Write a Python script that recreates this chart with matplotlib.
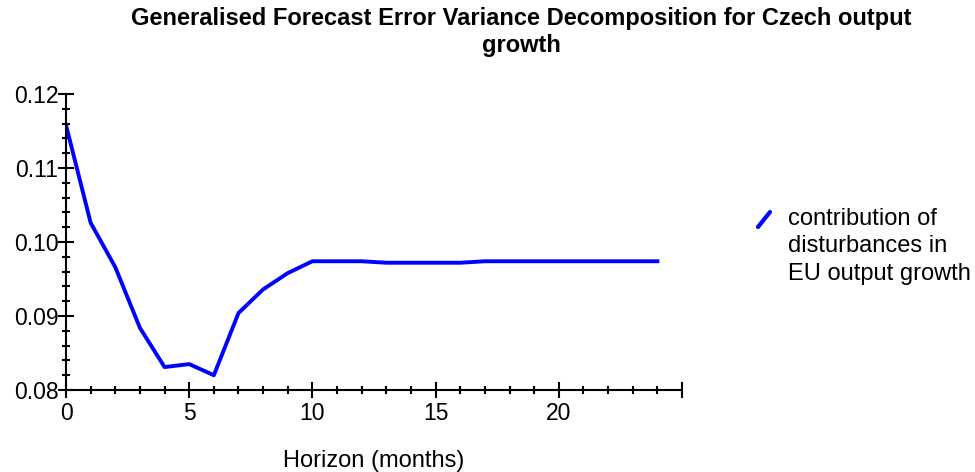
import matplotlib.pyplot as plt
from matplotlib.lines import Line2D
from matplotlib.ticker import MultipleLocator, FuncFormatter

horizon = list(range(25))
contribution = [0.1158, 0.1026, 0.0966, 0.0884, 0.0831, 0.0835, 0.0820, 0.0904,
                0.0936, 0.0958, 0.0974, 0.0974, 0.0974, 0.0972, 0.0972, 0.0972,
                0.0972, 0.0974, 0.0974, 0.0974, 0.0974, 0.0974, 0.0974, 0.0974,
                0.0974]
series_label = "contribution of\ndisturbances in\nEU output growth"
title_text = "Generalised Forecast Error Variance Decomposition for Czech output\ngrowth"

plt.rcParams['font.family'] = ['Liberation Sans', 'DejaVu Sans']

fig = plt.figure(figsize=(9.75, 4.72), dpi=100)
ax = fig.add_axes([0.0677, 0.1737, 0.6318, 0.6271])

line, = ax.plot(horizon, contribution, color='#0000ff', lw=2.8, label=series_label)

ax.set_xlim(0, 25)
ax.set_ylim(0.08, 0.12)
ax.xaxis.set_major_locator(MultipleLocator(5))
ax.xaxis.set_minor_locator(MultipleLocator(1))
ax.yaxis.set_major_locator(MultipleLocator(0.01))
ax.yaxis.set_minor_locator(MultipleLocator(0.002))
ax.xaxis.set_major_formatter(FuncFormatter(lambda v, p: "" if v > 24 else f"{v:.0f}"))
ax.yaxis.set_major_formatter(FuncFormatter(lambda v, p: f"{v:.2f}"))

for s in ['top', 'right']:
    ax.spines[s].set_visible(False)
for s in ['left', 'bottom']:
    ax.spines[s].set_linewidth(1.5)
ax.tick_params(which='major', direction='inout', length=11, width=1.5, labelsize=16.5, pad=3)
ax.tick_params(which='minor', direction='inout', length=6, width=1.5)
ax.tick_params(axis='y', which='major', pad=0)

ax.set_xlabel("Horizon (months)", fontsize=17, labelpad=18)

fig.text(0.535, 0.985, title_text, ha='center', va='top', fontsize=17,
         fontweight='bold', linespacing=1.2)

# legend: slanted key beside the first line of the label
fig.add_artist(Line2D([758 / 975, 770 / 975], [1 - 227 / 472, 1 - 212 / 472],
                      transform=fig.transFigure, color=line.get_color(), lw=3,
                      solid_capstyle='round'))
fig.text(788 / 975, 1 - 208 / 472, series_label, ha='left', va='top',
         fontsize=17, linespacing=1.32)

fig.savefig("out.png", dpi=100)
